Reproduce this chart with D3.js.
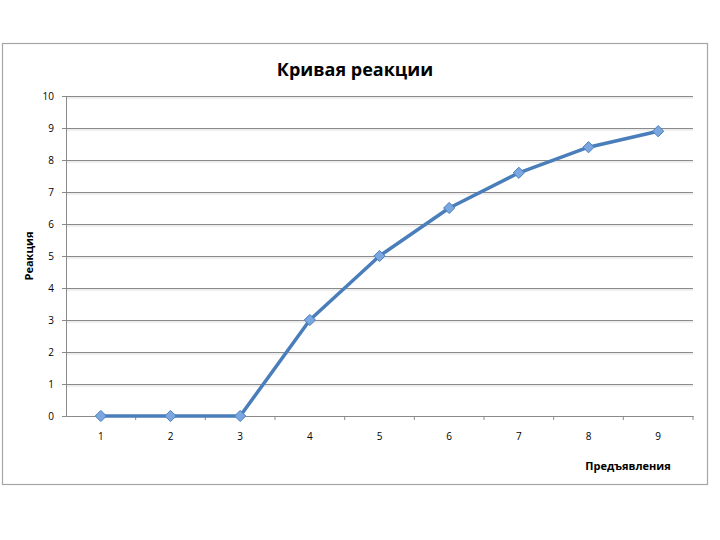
<!DOCTYPE html>
<html>
<head>
<meta charset="utf-8">
<script src="https://cdn.jsdelivr.net/npm/d3@7"></script>
<style>
  body { margin: 0; background: #fff; }
  svg text { font-family: "Open Sans", "Noto Sans", sans-serif; fill: #000; }
  .tick text { font-size: 10px; }
  .title { font-size: 18px; font-weight: bold; }
  .label { font-size: 11px; font-weight: bold; }
</style>
</head>
<body>
<div id="chart"></div>
<script>
var trials = ['1', '2', '3', '4', '5', '6', '7', '8', '9'];
var responses = [0, 0, 0, 3, 5, 6.5, 7.6, 8.4, 8.9];
var yTicks = [0, 1, 2, 3, 4, 5, 6, 7, 8, 9, 10];

var data = trials.map((t, i) => ({ trial: t, value: responses[i] }));

var svg = d3.select('#chart').append('svg')
    .attr('width', 720)
    .attr('height', 540);

// chart frame
svg.append('rect')
    .attr('x', 2.5).attr('y', 43.5)
    .attr('width', 705).attr('height', 441)
    .attr('fill', '#fff')
    .attr('stroke', '#a6a6a6')
    .attr('stroke-width', 1.2);

var margin = { top: 96, left: 66, bottom: 124, right: 27 },
    width = 720 - margin.left - margin.right,
    height = 540 - margin.top - margin.bottom;

var g = svg.append('g')
    .attr('transform', 'translate(' + margin.left + ',' + margin.top + ')');

var x = d3.scaleBand().domain(trials).range([0, width]);
var y = d3.scaleLinear().domain([0, 10]).range([height, 0]);

// gridlines
g.selectAll('.grid')
    .data(yTicks.slice(1))
    .enter()
    .append('line')
    .attr('x1', 0).attr('x2', width)
    .attr('y1', d => Math.round(y(d)) + 0.5)
    .attr('y2', d => Math.round(y(d)) + 0.5)
    .attr('stroke', '#8a8a8a')
    .attr('stroke-width', 1);

g.selectAll('.gridshadow')
    .data(yTicks.slice(1))
    .enter()
    .append('line')
    .attr('x1', 0).attr('x2', width)
    .attr('y1', d => Math.round(y(d)) + 2)
    .attr('y2', d => Math.round(y(d)) + 2)
    .attr('stroke', '#e8e8e8')
    .attr('stroke-width', 1.5);

// y axis
var yAxis = d3.axisLeft(y)
    .tickValues(yTicks)
    .tickSize(4)
    .tickPadding(8)
    .tickFormat(d3.format('d'));

var ya = g.append('g')
    .attr('class', 'axis')
    .call(yAxis);
ya.select('.domain').attr('stroke', '#8a8a8a');
ya.selectAll('.tick line').attr('stroke', '#8a8a8a');

// x axis, ticks between categories
var xAxis = d3.axisBottom(x)
    .tickSize(0)
    .tickPadding(17);

var xa = g.append('g')
    .attr('class', 'axis')
    .attr('transform', 'translate(0,' + height + ')')
    .call(xAxis);
xa.select('.domain').attr('stroke', '#8a8a8a');

xa.selectAll('.sep')
    .data(trials)
    .enter()
    .append('line')
    .attr('x1', d => x(d) + x.bandwidth())
    .attr('x2', d => x(d) + x.bandwidth())
    .attr('y1', 0).attr('y2', 4)
    .attr('stroke', '#8a8a8a');

// line
var line = d3.line()
    .x(d => x(d.trial) + x.bandwidth() / 2)
    .y(d => y(d.value));

g.append('path')
    .datum(data)
    .attr('fill', 'none')
    .attr('stroke', '#4a7ebb')
    .attr('stroke-width', 3.5)
    .attr('stroke-linejoin', 'round')
    .attr('d', line);

// diamond markers
g.selectAll('.marker')
    .data(data)
    .enter()
    .append('path')
    .attr('class', 'marker')
    .attr('d', d3.symbol().type(d3.symbolDiamond2).size(80))
    .attr('transform', d => 'translate(' + (x(d.trial) + x.bandwidth() / 2) + ',' + y(d.value) + ')')
    .attr('fill', '#7ba7e1')
    .attr('stroke', '#4a7ebb')
    .attr('stroke-width', 1);

// titles
svg.append('text')
    .attr('class', 'title')
    .attr('x', 355)
    .attr('y', 76)
    .attr('text-anchor', 'middle')
    .text('Кривая реакции');

svg.append('text')
    .attr('class', 'label')
    .attr('transform', 'translate(33,256) rotate(-90)')
    .attr('text-anchor', 'middle')
    .text('Реакция');

svg.append('text')
    .attr('class', 'label')
    .attr('x', 628)
    .attr('y', 470)
    .attr('text-anchor', 'middle')
    .text('Предъявления');
</script>
</body>
</html>
